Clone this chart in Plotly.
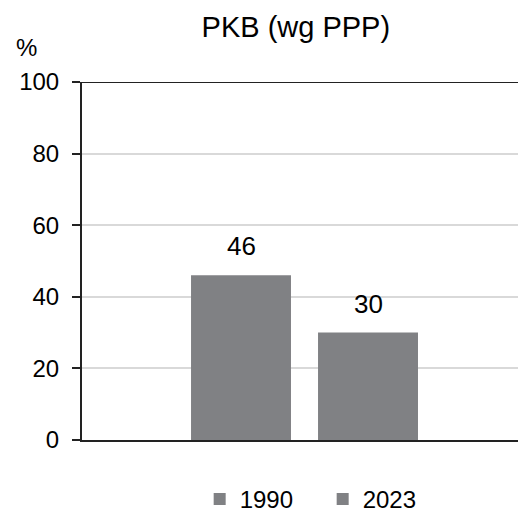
import plotly.graph_objects as go

YEARS = ["1990", "2023"]
VALUES = [46, 30]
TITLE = "PKB (wg PPP)"
BAR_COLOR = "#808184"
FONT = "Liberation Sans, Arial, sans-serif"

fig = go.Figure()
for i, (year, val) in enumerate(zip(YEARS, VALUES)):
    fig.add_trace(go.Bar(
        x=[year], y=[val], name=year,
        marker=dict(color=BAR_COLOR, line=dict(width=0)),
    ))
    # value label above each bar (category index i)
    fig.add_annotation(x=i, y=val, text=str(val), showarrow=False,
                       xref="x", yref="y", yanchor="bottom", yshift=12,
                       font=dict(size=26, color="black"))

fig.update_layout(
    width=519, height=517,
    barmode="overlay", bargap=0.213,
    plot_bgcolor="white", paper_bgcolor="white",
    font=dict(family=FONT, size=24, color="black"),
    margin=dict(l=82, r=1, t=82, b=77, autoexpand=False),
    title=dict(text=TITLE, x=0.57, xanchor="center", y=0.948, yanchor="middle",
               font=dict(size=29)),
    showlegend=True,
    legend=dict(orientation="h", x=0.552, xanchor="center", y=-0.103, yanchor="top",
                font=dict(size=24), itemwidth=30, entrywidth=78,
                traceorder="normal"),
    xaxis=dict(type="category", showticklabels=False, showline=True,
               linecolor="#222", linewidth=2, ticks="",
               range=[-1.252, 2.181], showgrid=False),
    yaxis=dict(range=[0, 100], tickvals=[0, 20, 40, 60, 80, 100],
               showline=True, linecolor="#222", linewidth=2,
               ticks="outside", ticklen=8, tickcolor="#222", tickwidth=2,
               showgrid=True, gridcolor="#d9d9d9", gridwidth=2,
               tickfont=dict(size=24), zeroline=False, ticklabelstandoff=8),
    shapes=[dict(type="line", xref="paper", yref="y", x0=0, x1=1, y0=100, y1=100,
                 line=dict(color="#222", width=2))],
)
fig.add_annotation(text="%", xref="paper", yref="paper", x=-0.155, y=1.096,
                   xanchor="left", yanchor="middle", showarrow=False,
                   font=dict(size=24))

fig.write_html("out.html", config={"displayModeBar": False},
               post_script="document.body.style.margin='0';")
